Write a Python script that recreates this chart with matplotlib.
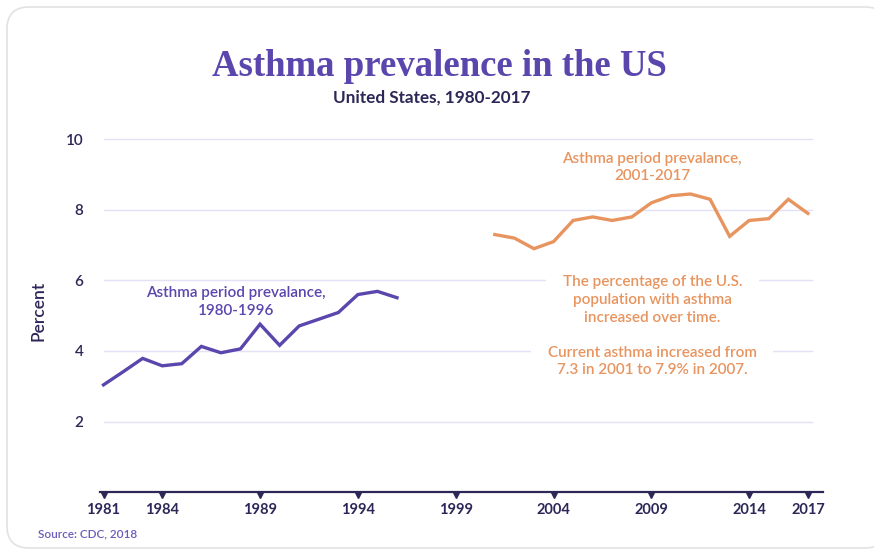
import matplotlib
matplotlib.use('Agg')
import matplotlib.pyplot as plt
import matplotlib.patches as mpatches
import matplotlib.transforms as mtransforms
import numpy as np

# CDC asthma prevalence, two survey periods
years_early = list(range(1981, 1997))
prev_early = [3.04, 3.41, 3.79, 3.58, 3.64, 4.13, 3.95, 4.06, 4.76, 4.16,
              4.71, 4.90, 5.09, 5.60, 5.69, 5.51]

years_late = list(range(2001, 2018))
prev_late = [7.3, 7.2, 6.9, 7.1, 7.7, 7.8, 7.7, 7.8, 8.2, 8.4,
             8.45, 8.3, 7.25, 7.7, 7.75, 8.3, 7.9]

tick_years = [1981, 1984, 1989, 1994, 1999, 2004, 2009, 2014, 2017]
y_ticks = [2, 4, 6, 8, 10]

purple = '#5a46ad'
orange = '#e8945f'
navy = '#2c2757'
grid_col = '#e3e1f6'

plt.rcParams['font.family'] = ['Lato', 'DejaVu Sans']

fig = plt.figure(figsize=(8.74, 5.52), dpi=100)

# rounded card behind everything
card = mpatches.FancyBboxPatch((7, 4), 880, 541, boxstyle='round,pad=0,rounding_size=22',
                               transform=None, facecolor='white', edgecolor='#e2e2e2',
                               linewidth=1.2, zorder=-5)
fig.patches.append(card)

ax = fig.add_axes([0.1144, 0.1085, 0.8272, 0.6583])
ax.set_facecolor('none')
ax.set_zorder(2)
ax.set_xlim(1980.82, 2017.77)
ax.set_ylim(0, 10.3)

for y in y_ticks:
    ax.axhline(y, xmin=0.005, xmax=0.985, color=grid_col, lw=1, zorder=1)

ax.plot(years_early, prev_early, color=purple, lw=2.4, solid_joinstyle='miter', zorder=3)
ax.plot(years_late, prev_late, color=orange, lw=2.4, solid_joinstyle='miter', zorder=3)

for s in ['top', 'right', 'left']:
    ax.spines[s].set_visible(False)
ax.spines['bottom'].set_color(navy)
ax.spines['bottom'].set_linewidth(1.6)

ax.set_xticks(tick_years)
ax.set_xticklabels([str(t) for t in tick_years], fontsize=10.5, fontweight='bold', color=navy)
ax.tick_params(axis='x', length=0, pad=8)
ax.set_yticks(y_ticks)
ax.set_yticklabels([str(t) for t in y_ticks], fontsize=11, fontweight='semibold', color=navy)
ax.tick_params(axis='y', length=0, pad=12)
ax.set_ylabel('Percent', fontsize=12.5, fontweight='semibold', color=navy, labelpad=14)

# small triangles hanging under the axis line
down = mtransforms.offset_copy(ax.transData, fig=fig, x=0, y=-2, units='points')
ax.plot(tick_years, [0] * len(tick_years), 'v', color=navy, ms=5, clip_on=False,
        transform=down, zorder=4)

note = dict(fontsize=11, fontweight='semibold', ha='center', va='center',
            linespacing=1.35, zorder=2)
ax.text(1987.75, 5.40, 'Asthma period prevalance,\n1980-1996', color=purple, **note)
ax.text(2009.05, 9.2, 'Asthma period prevalance,\n2001-2017', color=orange, **note)
ax.text(2009.05, 5.45, 'The percentage of the U.S.\npopulation with asthma\nincreased over time.',
        color=orange, bbox=dict(facecolor='white', edgecolor='none', pad=12), **note)
ax.text(2009.05, 3.70, 'Current asthma increased from\n7.3 in 2001 to 7.9% in 2007.',
        color=orange, bbox=dict(facecolor='white', edgecolor='none', pad=12), **note)

fig.text(0.503, 0.88, 'Asthma prevalence in the US', family='Liberation Serif',
         fontsize=26.5, fontweight='bold', color=purple, ha='center', va='center')
fig.text(0.494, 0.824, 'United States, 1980-2017', fontsize=12.3, fontweight='bold',
         color=navy, ha='center', va='center')
fig.text(0.043, 0.033, 'Source: CDC, 2018', fontsize=8.5, fontweight='semibold',
         color='#6a5bbb', ha='left', va='center')

fig.savefig('out.png', dpi=100, facecolor='white')
